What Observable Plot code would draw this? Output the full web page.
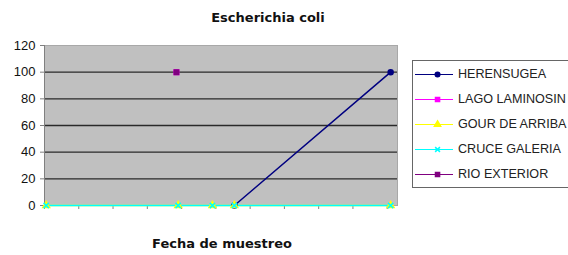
<!DOCTYPE html>
<html><head><meta charset="utf-8">
<script src="https://cdn.jsdelivr.net/npm/d3@7"></script>
<script src="https://cdn.jsdelivr.net/npm/@observablehq/plot@0.6"></script>
<style>
body{margin:0;background:#fff;font-family:"Liberation Sans",Arial,sans-serif;}
#wrap{position:relative;width:568px;height:255px;overflow:hidden;}
.t{position:absolute;font-family:"DejaVu Sans",sans-serif;font-weight:bold;font-size:13px;color:#111;white-space:nowrap;transform:translateX(-50%);line-height:1;}
#legend{position:absolute;left:412px;top:60px;width:170px;height:128px;border:1px solid #666;box-sizing:border-box;background:#fff;}
.li{position:absolute;left:0;width:165px;height:14px;font-size:12.6px;color:#222;white-space:nowrap;line-height:14px;}
.li svg{position:absolute;left:2px;top:0;max-width:none !important;}
.li span{position:absolute;left:45px;top:0;}
</style></head>
<body><div id="wrap"></div>
<script>
const series = ["HERENSUGEA","LAGO LAMINOSIN","GOUR DE ARRIBA","CRUCE GALERIA","RIO EXTERIOR"];
const colors = ["#000080","#ff00ff","#ffff00","#00ffff","#800080"];
const symbols = ["circle","square","triangle","times","square"];
// x = sampling position (category index on the date axis), y = value
const herensugeaX = [5.54, 10.1];
const herensugeaY = [0, 100];
const lagoX = [3.85];
const lagoY = [100];
const gourX = [0.05, 3.9, 4.9, 5.54, 10.1];
const gourY = [0, 0, 0, 0, 0];
const cruceX = [0.05, 3.9, 4.9, 5.54, 10.1];
const cruceY = [0, 0, 0, 0, 0];
const rioX = [3.85];
const rioY = [100];
const yTicks = [0,20,40,60,80,100,120];
const xTicks = [0,1,2,3,4,5,6,7,8,9,10];

const mk = (name, xs, ys) => xs.map((x,i)=>({series:name,x,y:ys[i]}));
const data = [
  ...mk(series[3], cruceX, cruceY),
  ...mk(series[2], gourX, gourY),
  ...mk(series[0], herensugeaX, herensugeaY),
  ...mk(series[1], lagoX, lagoY),
  ...mk(series[4], rioX, rioY)
];

const plot = Plot.plot({
  width:568, height:255,
  marginLeft:44, marginRight:171, marginTop:45, marginBottom:50,
  style:{fontFamily:"Liberation Sans, Arial, sans-serif", fontSize:"13px", background:"transparent"},
  x:{domain:[0,10.3], axis:null},
  y:{domain:[0,120], axis:null},
  marks:[
    Plot.frame({fill:"#c0c0c0", stroke:"#a8a8a8"}),
    Plot.ruleY(yTicks.filter(d=>d>0 && d<120), {stroke:"#2a2a2a", strokeWidth:1.3}),
    Plot.ruleX([0], {stroke:"#808080"}),
    Plot.axisY({ticks:yTicks, tickSize:4, tickPadding:5, stroke:"#808080", fill:"#111", fontSize:13, label:null}),
    Plot.axisX({ticks:xTicks, tickSize:4, tickFormat:()=>"", stroke:"#808080", label:null}),
    ...series.map((s,i)=>Plot.line(data.filter(d=>d.series===s), {x:"x", y:"y", stroke:colors[i], strokeWidth:1.5})),
    ...series.map((s,i)=>Plot.dot(data.filter(d=>d.series===s), {x:"x", y:"y", r:2.5, fill:colors[i], stroke:colors[i], symbol:()=>symbols[i]}))
  ]
});
const wrap = document.getElementById("wrap");
plot.style.position="absolute"; plot.style.left="0"; plot.style.top="0";
wrap.appendChild(plot);

const title = document.createElement("div");
title.className="t"; title.textContent="Escherichia coli";
title.style.left="268px"; title.style.top="11px";
wrap.appendChild(title);
const xl = document.createElement("div");
xl.className="t"; xl.textContent="Fecha de muestreo";
xl.style.left="222px"; xl.style.top="237px";
wrap.appendChild(xl);

const lg = document.createElement("div"); lg.id="legend"; wrap.appendChild(lg);
series.forEach((s,i)=>{
  const d = document.createElement("div"); d.className="li"; d.style.top=(6+i*25)+"px";
  const leg = Plot.plot({width:38,height:14,margin:0,x:{domain:[0,1],axis:null},y:{domain:[0,1],axis:null},
    style:{background:"transparent"},
    marks:[Plot.ruleY([0.5],{stroke:colors[i],strokeWidth:1.2}),
           Plot.dot([{x:0.58,y:0.5}],{x:"x",y:"y",r:2.3,fill:colors[i],stroke:colors[i],symbol:()=>symbols[i]})]});
  d.appendChild(leg);
  const sp=document.createElement("span"); sp.textContent=s; d.appendChild(sp);
  lg.appendChild(d);
});
</script></body></html>
